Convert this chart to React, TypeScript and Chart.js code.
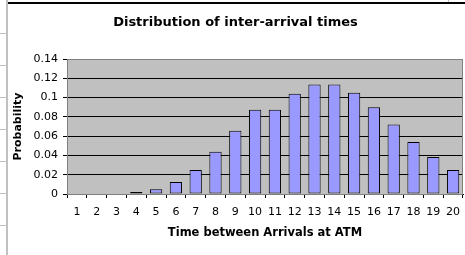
import React, { useEffect, useRef } from "react";
import { Chart, registerables } from "chart.js";

Chart.register(...registerables);

const categories = ["1","2","3","4","5","6","7","8","9","10","11","12","13","14","15","16","17","18","19","20"];
const probabilities = [0, 0, 0, 0.002, 0.005, 0.0125, 0.025, 0.0437, 0.0656, 0.0875, 0.0875, 0.104, 0.1135, 0.1135, 0.105, 0.09, 0.072, 0.054, 0.0385, 0.025];
const yTickLabels = ["0", "0.02", "0.04", "0.06", "0.08", "0.1", "0.12", "0.14"];
const chartTitle = "Distribution of inter-arrival times";
const xTitle = "Time between Arrivals at ATM";
const yTitle = "Probability";

const FONT = "'DejaVu Sans', Verdana, sans-serif";

const plotBg = {
  id: "plotBg",
  beforeDraw(chart: any) {
    const { ctx, chartArea: a } = chart;
    ctx.save();
    ctx.fillStyle = "#C0C0C0";
    ctx.fillRect(a.left, a.top, a.right - a.left, a.bottom - a.top);
    ctx.restore();
  },
  beforeDatasetsDraw(chart: any) {
    const { ctx, chartArea: a } = chart;
    ctx.save();
    ctx.strokeStyle = "#808080";
    ctx.lineWidth = 1;
    ctx.strokeRect(Math.round(a.left) + 0.5, Math.round(a.top) + 0.5, Math.round(a.right - a.left) - 1, Math.round(a.bottom - a.top));
    ctx.restore();
  },
};

export default function App() {
  const ref = useRef<HTMLCanvasElement | null>(null);

  useEffect(() => {
    document.body.style.margin = "0";
    const canvas = ref.current;
    if (!canvas) return;
    const chart = new Chart(canvas, {
      type: "bar",
      data: {
        labels: categories,
        datasets: [
          {
            data: probabilities,
            backgroundColor: "#9999FF",
            borderColor: "#000000",
            borderWidth: 1,
            borderSkipped: false,
            barPercentage: 0.62,
            categoryPercentage: 1,
          },
        ],
      },
      options: {
        animation: false,
        responsive: false,
        maintainAspectRatio: false,
        layout: { padding: { left: 0, right: 2, top: 0, bottom: 0 } },
        plugins: {
          legend: { display: false },
          tooltip: { enabled: false },
          title: {
            display: true,
            text: chartTitle,
            color: "#000",
            font: { family: FONT, size: 13, weight: "bold" },
            padding: { top: 11.2, bottom: 28.2 },
          },
        },
        scales: {
          x: {
            type: "category",
            offset: true,
            grid: {
              offset: true,
              drawOnChartArea: false,
              drawTicks: true,
              tickLength: 4,
              tickColor: "#000",
            },
            border: { display: true, color: "#000", width: 1 },
            ticks: {
              color: "#000",
              font: { family: FONT, size: 11 },
              padding: 8,
              maxRotation: 0,
              autoSkip: false,
            },
            title: {
              display: true,
              text: xTitle,
              color: "#000",
              font: { family: FONT, size: 11.5, weight: "bold" },
              padding: { top: 0, bottom: 15 },
            },
            afterFit(scale: any) {
              scale.height = 61;
              scale.paddingRight = 0;
              scale.paddingLeft = 0;
            },
          },
          y: {
            min: 0,
            max: 0.14,
            grid: {
              color: (c: any) => (c.tick && Math.abs(c.tick.value - 0.14) < 1e-9 ? "#808080" : "#000"),
              tickColor: "#000",
              tickLength: 4,
              lineWidth: 1,
            },
            border: { display: true, color: "#808080", width: 1 },
            ticks: {
              stepSize: 0.02,
              color: "#000",
              font: { family: FONT, size: 11 },
              padding: 5,
              callback: (v: any, i: number) => yTickLabels[i] ?? String(v),
            },
            title: {
              display: true,
              text: yTitle,
              color: "#000",
              font: { family: FONT, size: 11, weight: "bold" },
              padding: { top: 4, bottom: 0 },
            },
            afterFit(scale: any) {
              scale.width = 59;
            },
          },
        },
      },
      plugins: [plotBg],
    });
    return () => chart.destroy();
  }, []);

  const hLines = [33, 65, 97, 129, 161, 193, 225];

  return (
    <div style={{ position: "relative", width: 465, height: 255, overflow: "hidden", background: "#fff" }}>
      <div style={{ position: "absolute", left: 6, top: 0, width: 2, height: 255, background: "#c0c0c0" }} />
      {hLines.map((y) => (
        <div key={y} style={{ position: "absolute", left: 0, top: y, width: 6, height: 1, background: "#c0c0c0" }} />
      ))}
      <div style={{ position: "absolute", left: 448, top: 0, width: 1, height: 3, background: "#c0c0c0" }} />
      <div style={{ position: "absolute", left: 8, top: 2, width: 457, height: 2, background: "#000" }} />
      <canvas ref={ref} width={457} height={251} style={{ position: "absolute", left: 8, top: 4, width: 457, height: 251 }} />
    </div>
  );
}
